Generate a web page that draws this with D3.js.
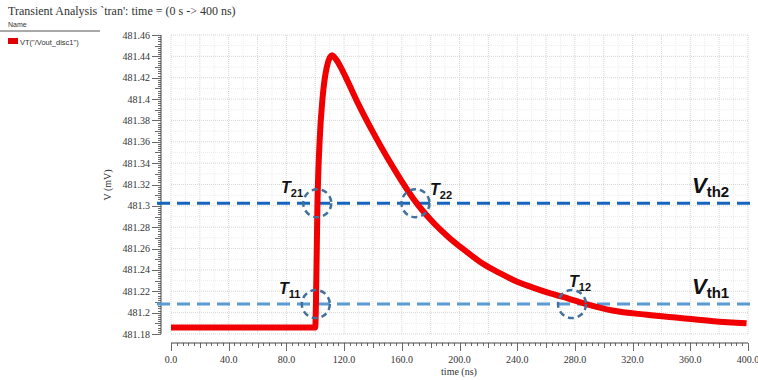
<!DOCTYPE html>
<html><head><meta charset="utf-8">
<script src="https://cdn.jsdelivr.net/npm/d3@7"></script>
<style>body{margin:0;background:#fff;}svg{display:block;}</style>
</head><body>
<svg id="c" width="758" height="380"></svg>
<script>
// ---- data ----
const timeNs = [0,100,100.5,101.5,103,105,108,111.5,114,118,122,130,140,150,160,170,180,193,205,216,228,240,252,263,276,288,306,330,353,376,399];
const voltMv = [481.186,481.186,481.21,481.30,481.36,481.40,481.43,481.441,481.438,481.429,481.418,481.395,481.369,481.345,481.323,481.303,481.287,481.270,481.257,481.246,481.237,481.229,481.223,481.218,481.213,481.208,481.202,481.198,481.195,481.192,481.190];
const xTicks = [0,40,80,120,160,200,240,280,320,360,400];
const yTicks = [481.18,481.2,481.22,481.24,481.26,481.28,481.3,481.32,481.34,481.36,481.38,481.4,481.42,481.44,481.46];
const thresholds = [{name:"th2", v:481.3025}, {name:"th1", v:481.208}];
const crossings = [{lab:"21", t:101.4, v:481.3025},{lab:"22", t:169.5, v:481.3025},{lab:"11", t:100.4, v:481.208},{lab:"12", t:278, v:481.208}];

const svg = d3.select("#c");
const x = d3.scaleLinear().domain([0,400]).range([171,748]);
const y = d3.scaleLinear().domain([481.18,481.46]).range([334,35]);

// title + legend
svg.append("text").attr("x",8).attr("y",15).attr("font-family","Liberation Serif").attr("font-size",12).attr("fill","#333")
  .text("Transient Analysis `tran': time = (0 s -> 400 ns)");
svg.append("text").attr("x",8).attr("y",27).attr("font-family","Liberation Sans").attr("font-size",7).attr("fill","#333").text("Name");
svg.append("line").attr("x1",0).attr("x2",100).attr("y1",31).attr("y2",31).attr("stroke","#555").attr("stroke-width",1);
svg.append("rect").attr("x",8).attr("y",38).attr("width",10).attr("height",6).attr("fill","#e00000");
svg.append("text").attr("x",20).attr("y",44.5).attr("font-family","Liberation Sans").attr("font-size",7.5).attr("fill","#333").text('VT("/Vout_disc1")');

// grid
const g = svg.append("g");
d3.range(0,401,10).forEach(t=>{
  g.append("line").attr("x1",x(t)).attr("x2",x(t)).attr("y1",y(481.46)).attr("y2",y(481.18))
   .attr("stroke", t%20===0 ? "#d6d6d6" : "#ececec").attr("stroke-width",1).attr("stroke-dasharray","1,1");
});
d3.range(0,29).forEach(i=>{
  const v = 481.18 + i*0.01;
  g.append("line").attr("x1",x(0)).attr("x2",x(400)).attr("y1",y(v)).attr("y2",y(v))
   .attr("stroke", i%2===0 ? "#d6d6d6" : "#ececec").attr("stroke-width",1).attr("stroke-dasharray","1,1");
});

// y axis
const ax = 161;
svg.append("line").attr("x1",ax).attr("x2",ax).attr("y1",y(481.46)).attr("y2",y(481.18)).attr("stroke","#444").attr("stroke-width",1);
d3.range(0,141).forEach(i=>{
  const v = 481.18 + i*0.002;
  const len = i%10===0 ? 9 : (i%5===0 ? 6 : 3);
  svg.append("line").attr("x1",ax-len).attr("x2",ax).attr("y1",Math.round(y(v))+0.5).attr("y2",Math.round(y(v))+0.5).attr("stroke","#444").attr("stroke-width",0.8);
});
yTicks.forEach(v=>{
  svg.append("text").attr("x",150).attr("y",y(v)+3.5).attr("text-anchor","end").attr("font-family","Liberation Serif").attr("font-size",10).attr("fill","#333")
    .text(d3.format(".2~f")(v));
});
svg.append("text").attr("transform","translate(111,185) rotate(-90)").attr("text-anchor","middle").attr("font-family","Liberation Serif").attr("font-size",10).attr("fill","#333").text("V (mV)");

// x axis ruler
const ay = 343;
svg.append("line").attr("x1",x(0)).attr("x2",x(400)).attr("y1",ay).attr("y2",ay).attr("stroke","#444").attr("stroke-width",1);
d3.range(0,101).forEach(i=>{
  const t = i*4;
  const len = t%40===0 ? 8 : (t%20===0 ? 5 : 3);
  svg.append("line").attr("x1",Math.round(x(t))+0.5).attr("x2",Math.round(x(t))+0.5).attr("y1",ay).attr("y2",ay+len).attr("stroke","#444").attr("stroke-width",0.8);
});
xTicks.forEach(t=>{
  svg.append("text").attr("x",x(t)).attr("y",363).attr("text-anchor","middle").attr("font-family","Liberation Serif").attr("font-size",10).attr("fill","#333")
    .text(d3.format(".1f")(t));
});
svg.append("text").attr("x",459).attr("y",375).attr("text-anchor","middle").attr("font-family","Liberation Serif").attr("font-size",10).attr("fill","#333").text("time (ns)");

// thresholds
const thColor = {th2:"#1565c0", th1:"#5b9bd5"};
thresholds.forEach(d=>{
  svg.append("line").attr("x1",157).attr("x2",752).attr("y1",y(d.v)).attr("y2",y(d.v))
    .attr("stroke",thColor[d.name]).attr("stroke-width",3).attr("stroke-dasharray","13,7");
});

// curve
const pts = timeNs.map((t,i)=>[t,voltMv[i]]);
svg.append("path").datum(pts).attr("d", d3.line().x(d=>x(d[0])).y(d=>y(d[1])).curve(d3.curveMonotoneX))
  .attr("fill","none").attr("stroke","#f00000").attr("stroke-width",6).attr("stroke-linejoin","round");

// crossing circles
crossings.forEach(c=>{
  svg.append("circle").attr("cx",x(c.t)).attr("cy",y(c.v)).attr("r",14)
    .attr("fill","none").attr("stroke","#41719c").attr("stroke-width",2.5).attr("stroke-dasharray","6,4");
});

// labels
const tLabels = [{lab:"21", x:281, y:193},{lab:"22", x:430, y:195},{lab:"11", x:279, y:294},{lab:"12", x:569, y:287}];
tLabels.forEach(l=>{
  const t = svg.append("text").attr("x",l.x).attr("y",l.y).attr("font-family","Liberation Sans").attr("font-weight","bold").attr("fill","#111");
  t.append("tspan").attr("font-size",16).attr("font-style","italic").text("T");
  t.append("tspan").attr("font-size",11).attr("dy",4).text(l.lab);
});
[{n:"th2", v:481.3025},{n:"th1", v:481.208}].forEach(l=>{
  const t = svg.append("text").attr("x",692).attr("y",y(l.v)-10).attr("font-family","Liberation Sans").attr("font-weight","bold").attr("fill","#111");
  t.append("tspan").attr("font-size",22).attr("font-style","italic").text("V");
  t.append("tspan").attr("font-size",15).attr("dy",4).text(l.n);
});
</script>
</body></html>
